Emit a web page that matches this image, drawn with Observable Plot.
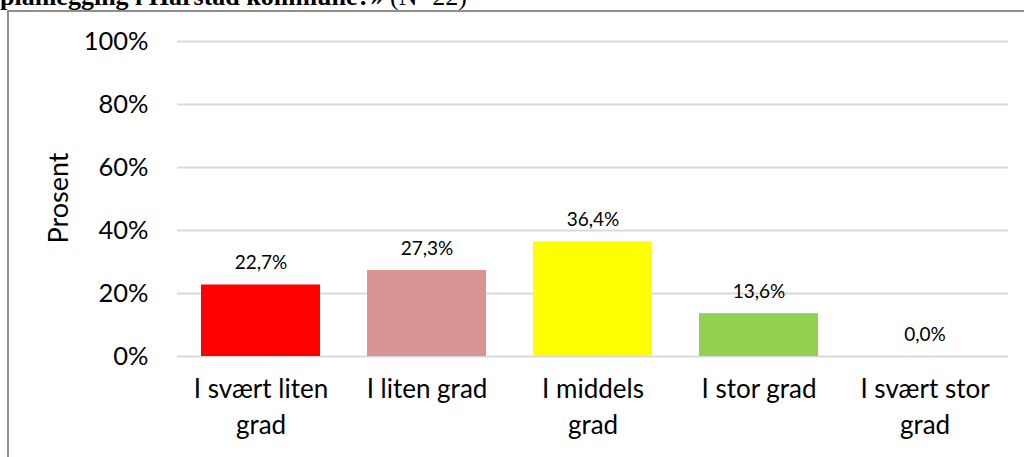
<!DOCTYPE html>
<html>
<head>
<meta charset="utf-8">
<script src="https://cdn.jsdelivr.net/npm/d3@7"></script>
<script src="https://cdn.jsdelivr.net/npm/@observablehq/plot@0.6"></script>
<style>
  html, body { margin: 0; padding: 0; background: #fff; }
  #wrap { position: relative; width: 1024px; height: 457px; overflow: hidden; background: #fff; }
  #title { position: absolute; left: 0; top: -16px; font-family: "Liberation Serif", "Times New Roman", serif; font-size: 26px; line-height: 1; white-space: nowrap; color: #000; }
  #frame { position: absolute; left: 7px; top: 10px; width: 1030px; height: 470px; border: 2px solid #8f8f8f; box-sizing: border-box; }
  #chart { position: absolute; left: 0; top: 0; }
</style>
</head>
<body>
<div id="wrap">
  <div id="title"><b>planlegging i Harstad kommune?»</b> (N=22)</div>
  <div id="frame"></div>
  <div id="chart"></div>
</div>
<script>
const categories = ["I svært liten grad", "I liten grad", "I middels grad", "I stor grad", "I svært stor grad"];
const tickLabels = ["I svært liten\ngrad", "I liten grad", "I middels\ngrad", "I stor grad", "I svært stor\ngrad"];
const values = [22.7, 27.3, 36.4, 13.6, 0.0];
const colors = ["#ff0000", "#d99594", "#ffff00", "#92d050", "#4f81bd"];
const yTicks = [0, 20, 40, 60, 80, 100];
const yLabel = "Prosent";

const data = categories.map((c, i) => ({cat: c, value: values[i], color: colors[i]}));
const font = "Lato, 'Open Sans', sans-serif";

const chart = Plot.plot({
  width: 1024,
  height: 457,
  marginTop: 41,
  marginBottom: 101,
  marginLeft: 177,
  marginRight: 16,
  style: {fontFamily: font, color: "#000", background: "transparent"},
  x: {domain: categories, paddingInner: 0.286, paddingOuter: 0.143},
  y: {domain: [0, 100]},
  marks: [
    Plot.gridY(yTicks, {stroke: "#d9d9d9", strokeOpacity: 1, strokeWidth: 2}),
    Plot.barY(data, {x: "cat", y: "value", fill: "color"}),
    Plot.axisY(yTicks, {tickSize: 0, tickPadding: 29, fontSize: 25.5, tickFormat: d => d + "%", label: null}),
    Plot.axisX({tickSize: 0, tickPadding: 17, fontSize: 26, lineHeight: 1.35, lineAnchor: "top",
      tickFormat: d => tickLabels[categories.indexOf(d)], label: null}),
    Plot.text(data, {x: "cat", y: "value", text: d => d.value.toFixed(1).replace(".", ",") + "%",
      dy: -22, fontSize: 19, lineAnchor: "middle", fill: "#000"}),
    Plot.text([yLabel], {frameAnchor: "left", dx: -118, dy: -1, rotate: -90, text: d => d, fontSize: 27, textAnchor: "middle", lineAnchor: "middle", fill: "#000"})
  ]
});
document.getElementById("chart").appendChild(chart);
</script>
</body>
</html>
